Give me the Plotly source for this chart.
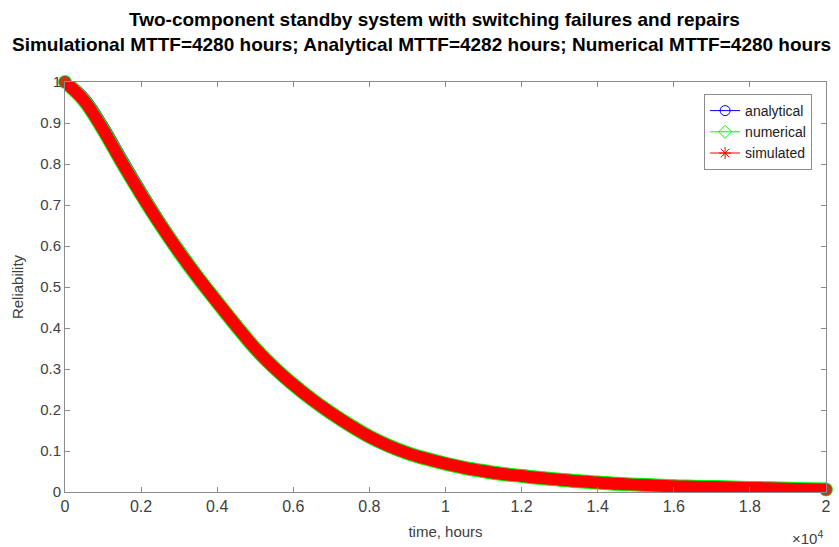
import plotly.graph_objects as go

time_h = [0, 500, 1000, 1500, 2000, 2500, 3000, 3500, 4000, 4500,
          5000, 5500, 6000, 6500, 7000, 7500, 8000, 8500, 9000, 9500,
          10000, 10500, 11000, 11500, 12000, 12500, 13000, 13500, 14000, 14500,
          15000, 15500, 16000, 16500, 17000, 17500, 18000, 18500, 19000, 19500, 20000]

analytical = [1.000, 0.958, 0.888, 0.807, 0.729, 0.655, 0.587, 0.523, 0.464, 0.406,
              0.350, 0.303, 0.262, 0.225, 0.192, 0.162, 0.135, 0.113, 0.095, 0.081,
              0.069, 0.059, 0.051, 0.044, 0.039, 0.034, 0.030, 0.026, 0.023, 0.020,
              0.018, 0.016, 0.014, 0.013, 0.012, 0.011, 0.010, 0.009, 0.008, 0.007, 0.006]

numerical = [1.000, 0.955, 0.884, 0.803, 0.726, 0.653, 0.585, 0.522, 0.463, 0.405,
             0.350, 0.303, 0.262, 0.225, 0.192, 0.162, 0.135, 0.113, 0.095, 0.081,
             0.069, 0.059, 0.051, 0.044, 0.039, 0.034, 0.030, 0.026, 0.023, 0.020,
             0.018, 0.016, 0.014, 0.013, 0.012, 0.011, 0.010, 0.009, 0.008, 0.007, 0.006]

simulated = [1.000, 0.955, 0.884, 0.803, 0.726, 0.653, 0.585, 0.522, 0.463, 0.405,
             0.350, 0.303, 0.262, 0.225, 0.192, 0.162, 0.135, 0.113, 0.095, 0.081,
             0.069, 0.059, 0.051, 0.044, 0.039, 0.034, 0.030, 0.026, 0.023, 0.020,
             0.018, 0.016, 0.014, 0.013, 0.012, 0.011, 0.010, 0.009, 0.008, 0.007, 0.006]

x_tickvals = [0, 2000, 4000, 6000, 8000, 10000, 12000, 14000, 16000, 18000, 20000]
x_ticktext = ["0", "0.2", "0.4", "0.6", "0.8", "1", "1.2", "1.4", "1.6", "1.8", "2"]
y_tickvals = [0, 0.1, 0.2, 0.3, 0.4, 0.5, 0.6, 0.7, 0.8, 0.9, 1]
y_ticktext = ["0", "0.1", "0.2", "0.3", "0.4", "0.5", "0.6", "0.7", "0.8", "0.9", "1"]

series_names = ["analytical", "numerical", "simulated"]
series_colors = ["#0000FF", "#00FF00", "#FF0000"]
series_symbols = ["circle-open", "diamond-open", "asterisk-open"]
series_widths = [13, 14, 12]

title1 = "Two-component standby system with switching failures and repairs"
title2 = "Simulational MTTF=4280 hours; Analytical MTTF=4282 hours; Numerical MTTF=4280 hours"

FONT = "Liberation Sans, Arial, sans-serif"
AXC = "#8c8c8c"
TXT = "#404040"

fig = go.Figure()

for name, vals, col, w in zip(series_names, [analytical, numerical, simulated],
                              series_colors, series_widths):
    n = len(vals)
    sizes = [w] + [0] * (n - 2) + [w]
    fig.add_trace(go.Scatter(
        x=time_h, y=vals, mode="lines+markers", showlegend=False,
        line=dict(color=col, width=w, shape="spline", smoothing=1.0),
        marker=dict(color=col, size=sizes, symbol="circle", line=dict(width=0)),
        cliponaxis=False, hoverinfo="skip"))

# legend entries (line + marker as in the original)
for name, col, sym in zip(series_names, series_colors, series_symbols):
    fig.add_trace(go.Scatter(
        x=[None], y=[None], mode="lines+markers", name=name,
        line=dict(color=col, width=1),
        marker=dict(color=col, size=10, symbol=sym, line=dict(color=col, width=1))))

W, H = 839, 547
L, R, T, B = 65, 8, 82, 55
ph = H - T - B
pw = W - L - R


def py(pix):
    return (H - B - pix) / ph


def px(pix):
    return (pix - L) / pw


fig.update_layout(
    width=W, height=H,
    margin=dict(l=L, r=R, t=T, b=B, pad=0),
    paper_bgcolor="white", plot_bgcolor="white",
    font=dict(family=FONT, color=TXT, size=15),
    xaxis=dict(range=[0, 20000], tickvals=x_tickvals, ticktext=x_ticktext,
               showline=True, linecolor=AXC, linewidth=1, mirror="ticks",
               ticks="inside", ticklen=5, tickcolor=AXC, showgrid=False, zeroline=False,
               tickfont=dict(family=FONT, size=16, color=TXT),
               title=dict(text="time, hours", font=dict(family=FONT, size=15, color=TXT),
                          standoff=12)),
    yaxis=dict(range=[0, 1], tickvals=y_tickvals, ticktext=y_ticktext,
               showline=True, linecolor=AXC, linewidth=1, mirror="ticks",
               ticks="inside", ticklen=5, tickcolor=AXC, showgrid=False, zeroline=False,
               tickfont=dict(family=FONT, size=15, color=TXT),
               title=dict(text="Reliability", font=dict(family=FONT, size=15, color=TXT),
                          standoff=12)),
    legend=dict(x=px(817), y=py(94), xanchor="right", yanchor="top",
                bgcolor="white", bordercolor=AXC, borderwidth=1,
                font=dict(family=FONT, size=14, color="#202020"),
                tracegroupgap=0, itemwidth=30),
    annotations=[
        dict(text="<b>" + title1 + "</b>", x=px(437), xref="paper", xanchor="center",
             y=py(19), yref="paper", yanchor="middle", showarrow=False,
             font=dict(family=FONT, size=19, color="#000000")),
        dict(text="<b>" + title2 + "</b>", x=px(424), xref="paper", xanchor="center",
             y=py(45), yref="paper", yanchor="middle", showarrow=False,
             font=dict(family=FONT, size=19, color="#000000")),
        dict(text="×10<sup>4</sup>", x=px(812), xref="paper",
             xanchor="center", y=py(537), yref="paper", yanchor="middle",
             showarrow=False, font=dict(family=FONT, size=15, color=TXT)),
    ],
)

fig.write_html("out.html")
